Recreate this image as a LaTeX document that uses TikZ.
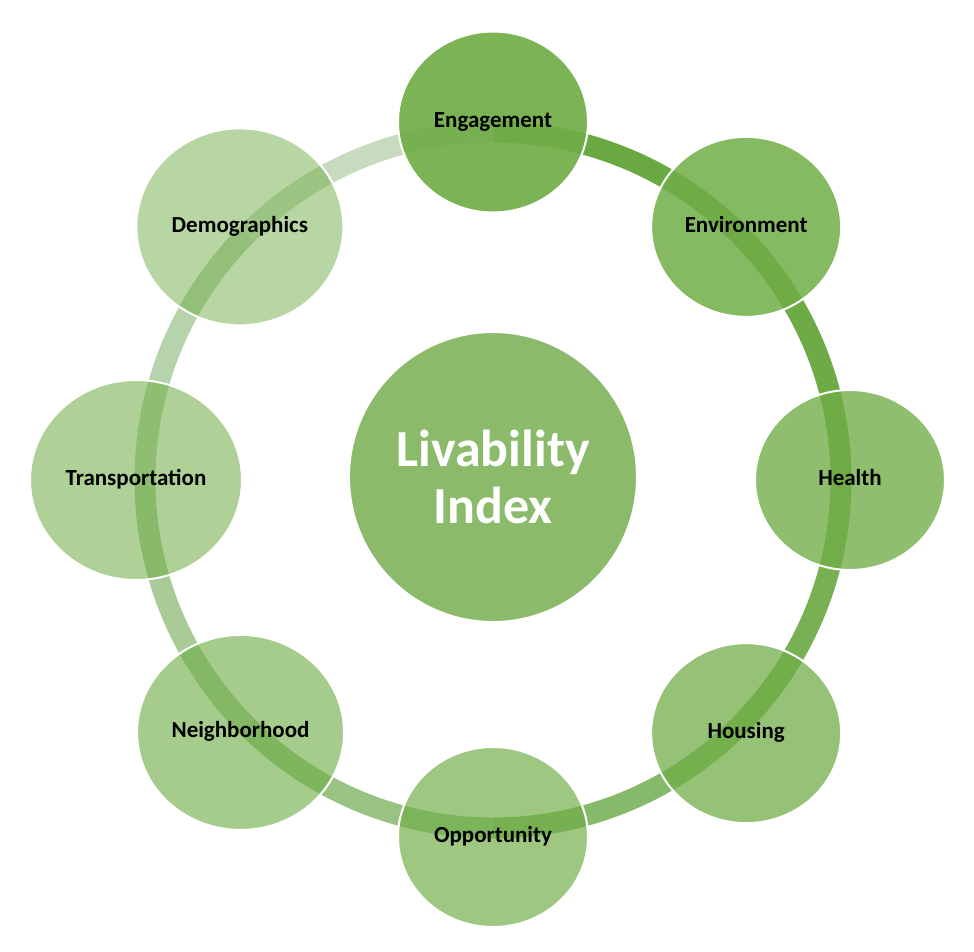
\documentclass[tikz,border=0pt]{standalone}
\usepackage{fontspec}
\setmainfont{Carlito}
\usepackage{xcolor}
\usetikzlibrary{shapes.geometric}

\definecolor{leaf}{RGB}{112,173,71}
\definecolor{hubfill}{RGB}{139,186,107}
\definecolor{segA}{RGB}{106,168,66}
\definecolor{segB}{RGB}{110,171,70}
\definecolor{segC}{RGB}{120,177,84}
\definecolor{segD}{RGB}{134,185,105}
\definecolor{segE}{RGB}{152,195,131}
\definecolor{segF}{RGB}{168,203,152}
\definecolor{segG}{RGB}{183,211,171}
\definecolor{segH}{RGB}{199,220,190}

\begin{document}
\begin{tikzpicture}[
  x=1pt, y=1pt,
  font=\bfseries\fontsize{23}{27}\selectfont,
  topic/.style={ellipse, fill=leaf, draw=white, line width=2pt, inner sep=0pt,
                minimum width=190pt, minimum height=180pt,
                text height=1.2em, text depth=.17em},
  bigtopic/.style={topic, minimum width=207pt, minimum height=197pt},
  hub/.style={ellipse, fill=hubfill, draw=white, line width=2pt, inner sep=0pt,
              minimum width=288pt, minimum height=290pt, align=center,
              text=white, font=\bfseries\fontsize{52}{57}\selectfont},
  band/.style={line width=21pt},
]
\useasboundingbox (-493pt,-471pt) rectangle (481pt,480pt);

% ring under the circles
\coordinate (r-eng) at (90:348pt);
\coordinate (r-env) at (45:348pt);
\coordinate (r-hlth) at (0:348pt);
\coordinate (r-hous) at (-45:348pt);
\coordinate (r-opp) at (-90:348pt);
\coordinate (r-nbhd) at (-135:348pt);
\coordinate (r-trans) at (180:348pt);
\coordinate (r-demo) at (135:348pt);
\draw[band, segA] (r-eng) arc[start angle=90, end angle=45, radius=348pt];
\draw[band, segB] (r-env) arc[start angle=45, end angle=0, radius=348pt];
\draw[band, segC] (r-hlth) arc[start angle=0, end angle=-45, radius=348pt];
\draw[band, segD] (r-hous) arc[start angle=-45, end angle=-90, radius=348pt];
\draw[band, segE] (r-opp) arc[start angle=-90, end angle=-135, radius=348pt];
\draw[band, segF] (r-nbhd) arc[start angle=-135, end angle=-180, radius=348pt];
\draw[band, segG] (r-trans) arc[start angle=180, end angle=135, radius=348pt];
\draw[band, segH] (r-demo) arc[start angle=135, end angle=90, radius=348pt];

\node[hub] (hub) at (0,3pt) {Livability\\Index};

\node[topic, fill opacity=.92, text opacity=1, minimum height=181pt] (eng) at (90:358pt) {Engagement};
\node[topic, fill opacity=.85, text opacity=1] (env) at (45:358pt) {Environment};
\node[topic, fill opacity=.79, text opacity=1] (hlth) at (0:357pt) {Health};
\node[topic, fill opacity=.74, text opacity=1] (hous) at (-45:358pt) {Housing};
\node[topic, fill opacity=.68, text opacity=1] (opp) at (-90:357pt) {Opportunity};
\node[bigtopic, fill opacity=.62, text opacity=1, minimum height=195pt] (nbhd) at (-135:357pt) {Neighborhood};
\node[bigtopic, fill opacity=.56, text opacity=1, minimum width=212pt, minimum height=200pt] (trans) at (180:357pt) {Transportation};
\node[bigtopic, fill opacity=.50, text opacity=1] (demo) at (135:358pt) {Demographics};
\end{tikzpicture}
\end{document}
